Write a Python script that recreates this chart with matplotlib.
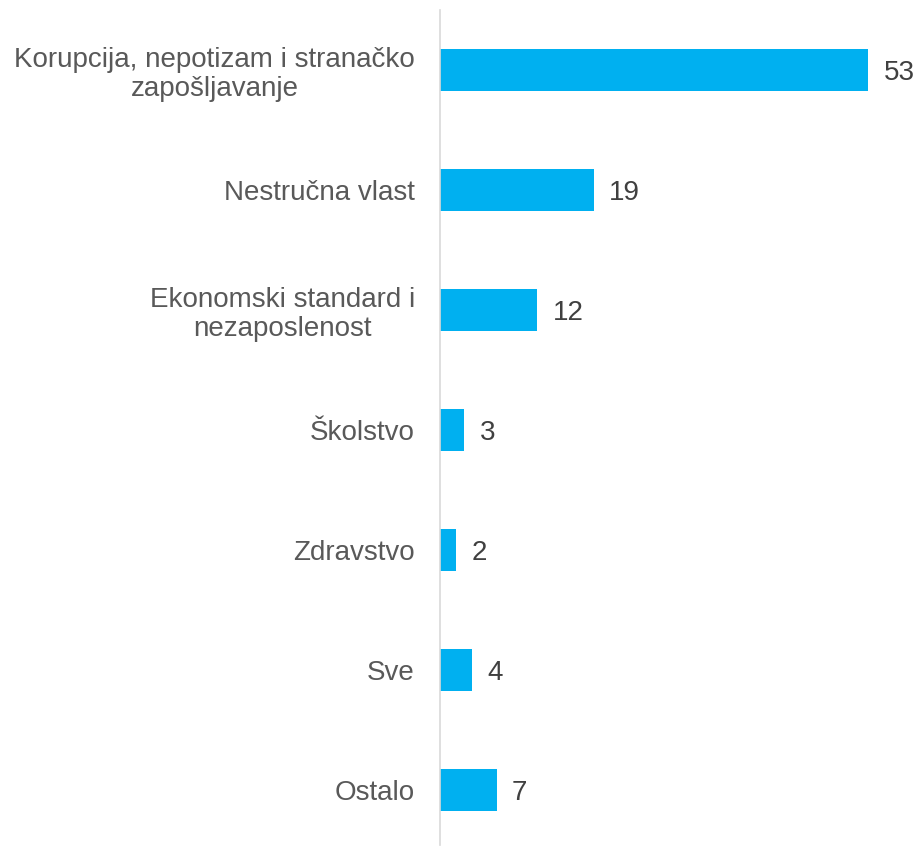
import matplotlib.pyplot as plt

categories = ["Korupcija, nepotizam i stranačko\nzapošljavanje", "Nestručna vlast",
              "Ekonomski standard i\nnezaposlenost", "Školstvo", "Zdravstvo", "Sve", "Ostalo"]
values = [53, 19, 12, 3, 2, 4, 7]

plt.rcParams['font.family'] = ['Liberation Sans', 'DejaVu Sans']

fig = plt.figure(figsize=(9.17, 8.46), dpi=100)
ax = fig.add_axes([440 / 917, 1 - 845 / 846, 1 - 440 / 917, 835 / 846])

pos = list(range(len(values)))
ax.barh(pos, values, height=0.35, color='#00B0F0')
ax.set_ylim(6.46, -0.5)
ax.set_xlim(0, 59)

for p, v in zip(pos, values):
    ax.text(v + 1.9, p, str(v), va='center_baseline', ha='left', fontsize=20, color='#404040')

ax.set_yticks(pos)
ax.set_yticklabels(categories, fontsize=20, color='#595959', linespacing=1.15)
for lbl in ax.get_yticklabels():
    lbl.set_multialignment('center')
ax.tick_params(axis='y', length=0, pad=18)
ax.set_xticks([])
for s in ['top', 'right', 'bottom']:
    ax.spines[s].set_visible(False)
ax.spines['left'].set_color('#D9D9D9')
ax.spines['left'].set_linewidth(1.2)

fig.savefig('out.png', dpi=100)
